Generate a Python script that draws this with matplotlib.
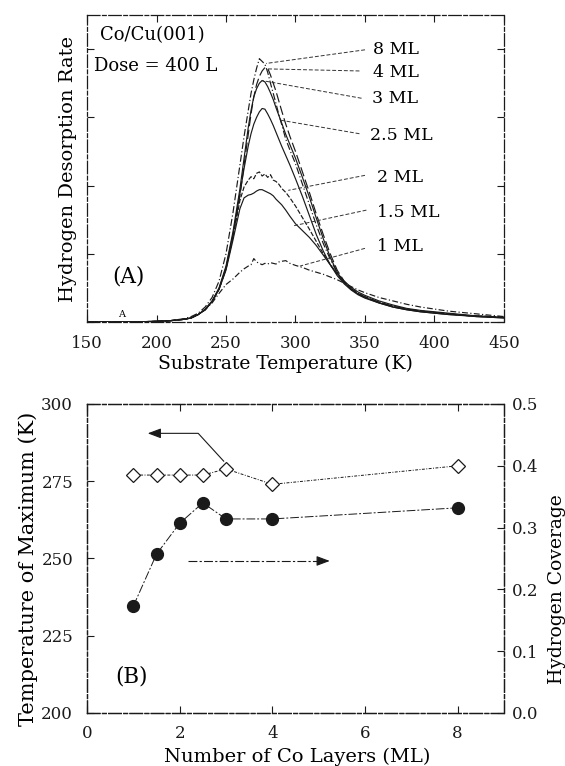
import matplotlib
matplotlib.use("Agg")
import matplotlib.pyplot as plt

plt.rcParams['font.family'] = ['DejaVu Serif']

# ---------------- Panel A data ----------------
temps = [150, 170, 175, 180, 190, 200, 210, 220, 225, 230, 235, 240, 245, 250, 255,
         260, 263, 266, 268, 270, 272, 274, 276, 278, 280, 282, 284, 286, 288, 290,
         293, 296, 300, 305, 310, 315, 320, 325, 330, 335, 340, 345, 350, 360, 370,
         380, 390, 400, 410, 420, 430, 440, 450]

rate_8ml = [0.00, 0.00, 0.00, 0.00, 0.005, 0.01, 0.02, 0.05, 0.08, 0.13, 0.22, 0.36, 0.60, 1.00, 1.60,
            2.30, 2.72, 3.10, 3.35, 3.55, 3.72, 3.86, 3.82, 3.78, 3.66, 3.50, 3.35, 3.20, 3.04, 2.90,
            2.68, 2.52, 2.32, 2.02, 1.72, 1.42, 1.15, 0.92, 0.72, 0.58, 0.48, 0.41, 0.36, 0.29, 0.23,
            0.19, 0.16, 0.14, 0.12, 0.10, 0.09, 0.08, 0.07]
rate_4ml = [0.00, 0.00, 0.00, 0.00, 0.005, 0.01, 0.02, 0.04, 0.06, 0.11, 0.18, 0.30, 0.48, 0.78, 1.25,
            1.85, 2.30, 2.75, 3.05, 3.30, 3.48, 3.60, 3.68, 3.73, 3.72, 3.62, 3.50, 3.38, 3.24, 3.10,
            2.90, 2.72, 2.50, 2.20, 1.90, 1.58, 1.28, 1.00, 0.76, 0.60, 0.49, 0.42, 0.37, 0.29, 0.23,
            0.19, 0.16, 0.14, 0.12, 0.10, 0.085, 0.075, 0.065]
rate_3ml = [0.00, 0.00, 0.00, 0.00, 0.005, 0.01, 0.02, 0.04, 0.06, 0.11, 0.19, 0.31, 0.50, 0.82, 1.32,
            1.95, 2.40, 2.85, 3.10, 3.30, 3.42, 3.50, 3.54, 3.52, 3.45, 3.36, 3.26, 3.14, 3.03, 2.92,
            2.75, 2.60, 2.40, 2.12, 1.83, 1.52, 1.22, 0.95, 0.73, 0.58, 0.48, 0.41, 0.36, 0.28, 0.22,
            0.18, 0.15, 0.13, 0.11, 0.10, 0.08, 0.07, 0.06]
rate_25ml = [0.00, 0.00, 0.00, 0.00, 0.005, 0.01, 0.02, 0.04, 0.06, 0.11, 0.18, 0.30, 0.49, 0.80, 1.28,
             1.88, 2.25, 2.58, 2.76, 2.90, 3.00, 3.08, 3.13, 3.12, 3.05, 2.97, 2.88, 2.78, 2.68, 2.58,
             2.44, 2.30, 2.10, 1.84, 1.56, 1.28, 1.04, 0.84, 0.68, 0.56, 0.47, 0.40, 0.35, 0.28, 0.22,
             0.18, 0.15, 0.13, 0.11, 0.095, 0.08, 0.07, 0.06]
rate_2ml = [0.00, 0.00, 0.00, 0.00, 0.005, 0.01, 0.02, 0.04, 0.06, 0.11, 0.18, 0.30, 0.48, 0.78, 1.24,
            1.78, 1.98, 2.08, 2.13, 2.10, 2.18, 2.20, 2.14, 2.17, 2.12, 2.16, 2.08, 2.06, 2.02, 1.96,
            1.90, 1.82, 1.70, 1.53, 1.36, 1.18, 1.00, 0.84, 0.70, 0.58, 0.49, 0.42, 0.37, 0.29, 0.23,
            0.19, 0.16, 0.14, 0.12, 0.10, 0.09, 0.08, 0.07]
rate_15ml = [0.00, 0.00, 0.00, 0.00, 0.005, 0.01, 0.02, 0.04, 0.06, 0.11, 0.18, 0.30, 0.48, 0.76, 1.20,
             1.66, 1.82, 1.86, 1.87, 1.89, 1.92, 1.94, 1.94, 1.92, 1.90, 1.88, 1.85, 1.80, 1.76, 1.72,
             1.64, 1.55, 1.44, 1.34, 1.24, 1.12, 0.98, 0.84, 0.71, 0.60, 0.51, 0.44, 0.39, 0.31, 0.25,
             0.20, 0.17, 0.15, 0.13, 0.11, 0.09, 0.08, 0.07]
rate_1ml = [0.00, 0.00, 0.00, 0.00, 0.005, 0.01, 0.02, 0.04, 0.06, 0.11, 0.18, 0.28, 0.42, 0.55, 0.63,
            0.73, 0.78, 0.82, 0.84, 0.93, 0.88, 0.86, 0.84, 0.86, 0.85, 0.87, 0.86, 0.85, 0.88, 0.89,
            0.90, 0.86, 0.83, 0.80, 0.76, 0.73, 0.70, 0.66, 0.62, 0.57, 0.52, 0.47, 0.43, 0.36, 0.31,
            0.26, 0.22, 0.19, 0.16, 0.14, 0.12, 0.10, 0.08]

curve_labels = ['8 ML', '4 ML', '3 ML', '2.5 ML', '2 ML', '1.5 ML', '1 ML']
curves = [rate_8ml, rate_4ml, rate_3ml, rate_25ml, rate_2ml, rate_15ml, rate_1ml]
temp_ticks = [150, 200, 250, 300, 350, 400, 450]

# ---------------- Panel B data ----------------
layers = [1, 1.5, 2, 2.5, 3, 4, 8]
t_max = [277, 277, 277, 277, 279, 274, 280]
coverage = [0.173, 0.257, 0.307, 0.340, 0.314, 0.314, 0.332]

# ---------------- Figure ----------------
fig = plt.figure(figsize=(5.65, 7.66), dpi=100)
axA = fig.add_axes([0.154, 0.5796, 0.738, 0.4008])
axB = fig.add_axes([0.154, 0.0692, 0.738, 0.4034])

spine_ls = (0, (10, 2, 3, 2))
ink = '#1a1a1a'

def style_spines(ax):
    for s in ax.spines.values():
        s.set_linestyle(spine_ls)
        s.set_linewidth(0.9)
        s.set_color(ink)

# Panel A
styles = [(0, (6, 2, 1, 2)), (0, (8, 3)), '-', '-', (0, (4, 1.5)), '-', (0, (5, 2, 1, 2))]
for vals, ls in zip(curves, styles):
    axA.plot(temps, vals, color=ink, lw=0.85, ls=ls)

axA.set_xlim(150, 450)
axA.set_ylim(0, 4.5)
axA.set_xticks(temp_ticks)
axA.set_yticks([0, 1, 2, 3, 4])
axA.set_yticklabels([])
axA.tick_params(direction='in', length=5, width=0.8, top=True, right=True,
                labelsize=12, pad=9, colors=ink)
style_spines(axA)
axA.set_xlabel('Substrate Temperature (K)', fontsize=13.5)
axA.xaxis.set_label_coords(0.475, -0.108)
axA.set_ylabel('Hydrogen Desorption Rate', fontsize=14)
axA.yaxis.set_label_coords(-0.025, 0.5)

axA.text(159, 4.2, 'Co/Cu(001)', fontsize=13, va='center', ha='left')
axA.text(155, 3.76, 'Dose = 400 L', fontsize=13, va='center', ha='left')
axA.text(168, 0.66, '(A)', fontsize=15.5, va='center', ha='left')
axA.text(175, 0.04, 'A', fontsize=7, va='bottom', ha='center')

# label text positions and leader-line endpoints
lab_xy = [(356, 4.00), (356, 3.66), (355, 3.28), (353.5, 2.74), (358.5, 2.12), (358.5, 1.61), (358.5, 1.10)]
lead_from = [(350, 3.99), (346, 3.68), (347.5, 3.28), (346, 2.76), (350, 2.15), (351, 1.64), (350, 1.08)]
lead_to = [(278.8, 3.79), (280.4, 3.71), (275.7, 3.54), (288.8, 2.96), (294.8, 1.93), (298.4, 1.41), (303.2, 0.82)]
for lab, (tx, ty), (x0, y0), (x1, y1) in zip(curve_labels, lab_xy, lead_from, lead_to):
    axA.text(tx, ty, lab, fontsize=12.5, va='center', ha='left')
    axA.plot([x0, x1], [y0, y1], color='#333333', lw=0.7, ls=(0, (4, 2)))

# Panel B
axB.plot(layers, t_max, color=ink, lw=0.7, ls=(0, (3, 1.5, 1, 1.5)),
         marker='D', ms=7, mfc='white', mec=ink, mew=0.9)
axB.set_xlim(0, 9)
axB.set_ylim(200, 300)
axB.set_xticks([0, 2, 4, 6, 8])
axB.set_yticks([200, 225, 250, 275, 300])
axB.tick_params(direction='in', length=5, width=0.8, top=True, right=False,
                labelsize=12, pad=10, colors=ink)
axB.tick_params(axis='x', pad=9)
axB.set_xlabel('Number of Co Layers (ML)', fontsize=14)
axB.xaxis.set_label_coords(0.504, -0.112)
axB.set_ylabel('Temperature of Maximum (K)', fontsize=15)
axB.yaxis.set_label_coords(-0.117, 0.465)
style_spines(axB)

axB2 = axB.twinx()
axB2.plot(layers, coverage, color=ink, lw=0.7, ls=(0, (9, 2, 2, 2)),
          marker='o', ms=8.5, mfc=ink, mec=ink)
axB2.set_ylim(0, 0.5)
axB2.set_yticks([0.0, 0.1, 0.2, 0.3, 0.4, 0.5])
axB2.set_yticklabels(['0.0', '0.1', '0.2', '0.3', '0.4', '0.5'])
axB2.tick_params(direction='in', length=5, width=0.8, labelsize=12, pad=6, colors=ink)
axB2.set_ylabel('Hydrogen Coverage', fontsize=13.5)
axB2.yaxis.set_label_coords(1.105, 0.40)
style_spines(axB2)

# arrows indicating axes
axB.plot([2.95, 2.4, 1.55], [281.5, 290.5, 290.5], color=ink, lw=0.8)
axB.annotate('', xy=(1.25, 290.5), xytext=(1.6, 290.5),
             arrowprops=dict(arrowstyle='-|>,head_length=0.8,head_width=0.3', color=ink, lw=0.8))
axB.plot([2.18, 5.0], [249.2, 249.2], color=ink, lw=0.8, ls=(0, (8, 2, 2, 2)))
axB.annotate('', xy=(5.3, 249.2), xytext=(4.95, 249.2),
             arrowprops=dict(arrowstyle='-|>,head_length=0.8,head_width=0.3', color=ink, lw=0.8))
axB.text(0.95, 211.7, '(B)', fontsize=15.5, va='center', ha='center')

fig.savefig('out.png', dpi=100)
